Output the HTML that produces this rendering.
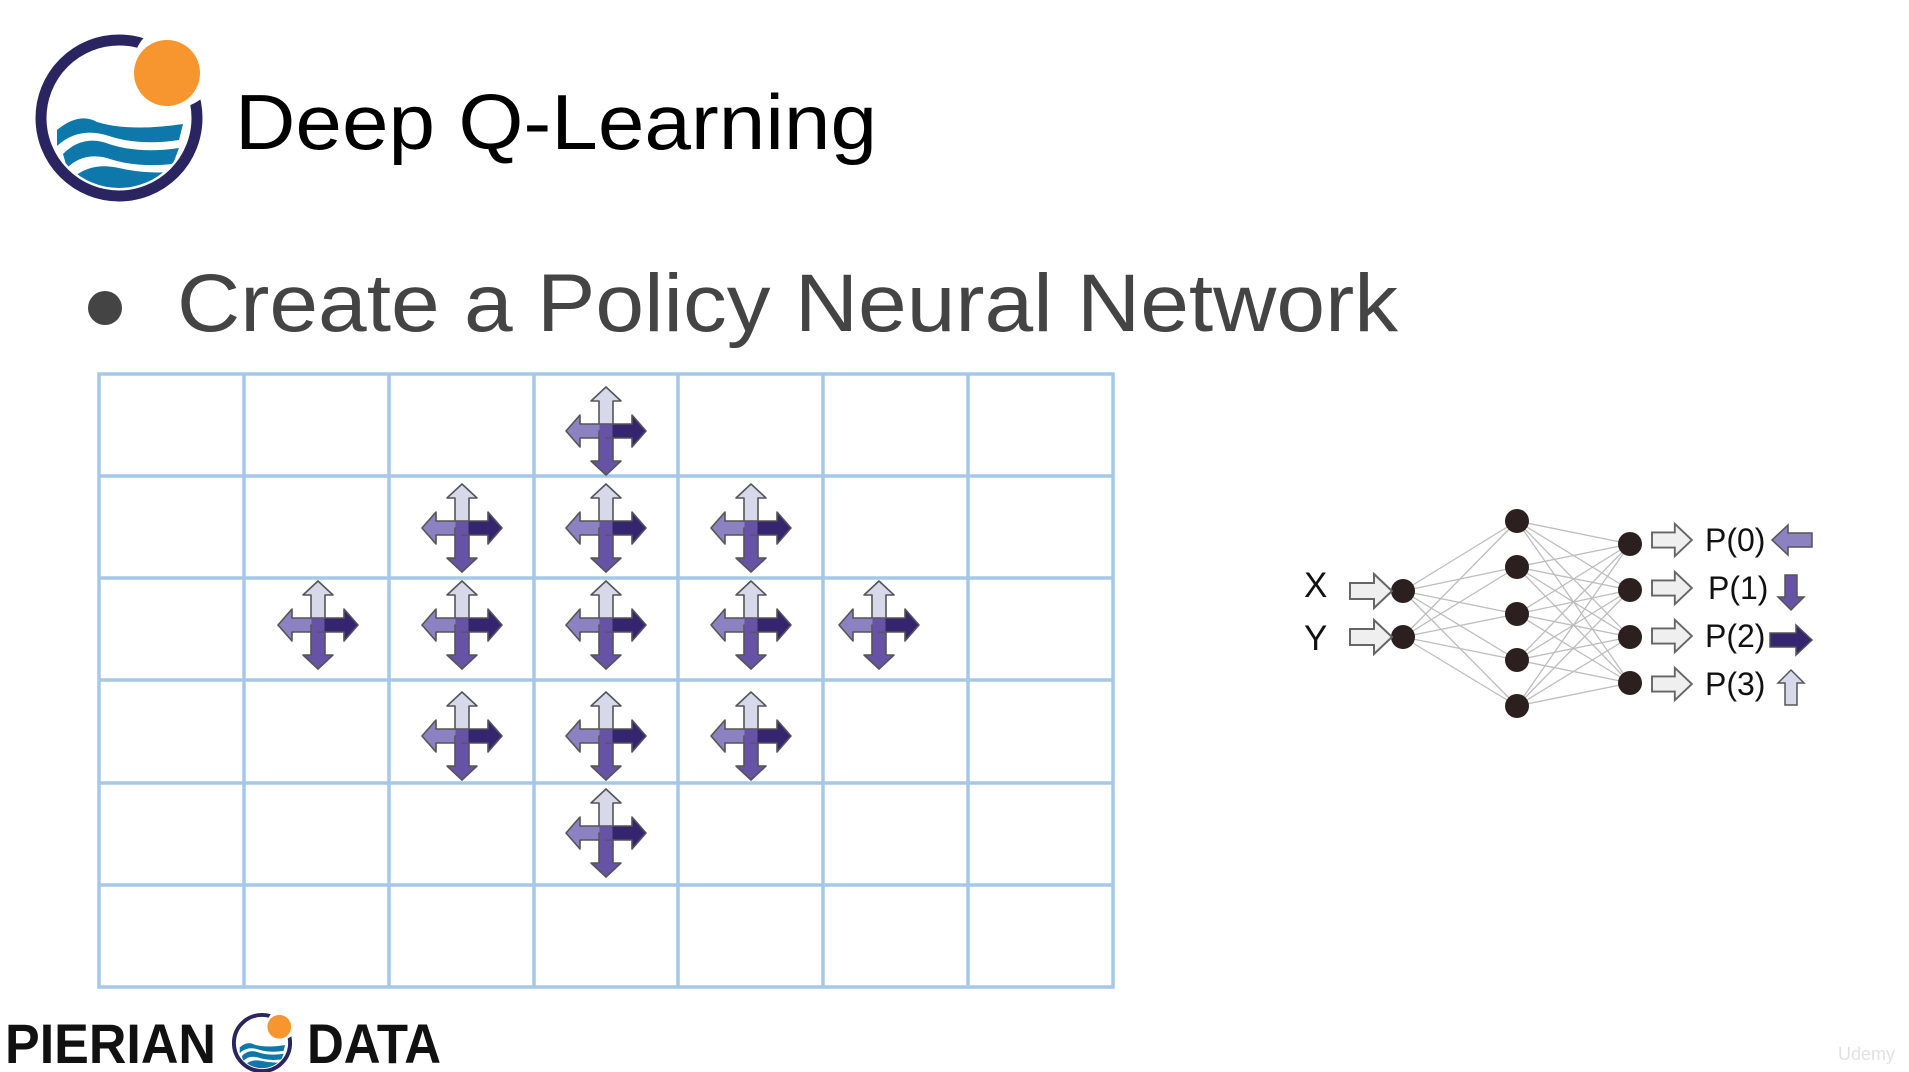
<!DOCTYPE html>
<html><head><meta charset="utf-8"><style>
html,body{margin:0;padding:0;background:#fff;width:1909px;height:1072px;overflow:hidden}
svg{display:block}
</style></head><body>
<svg width="1909" height="1072" viewBox="0 0 1909 1072" xmlns="http://www.w3.org/2000/svg">
<defs>
<g id="cross" stroke="#555" stroke-width="1.6" stroke-linejoin="round">
  <path d="M-7,0 V-30 H-15 L0,-44 L15,-30 H7 V0 Z" fill="#d9d7ea"/>
  <path d="M0,-7 H-26 V-16 L-40,0 L-26,16 V7 H0 Z" fill="#8c82c2"/>
  <path d="M7,0 V30 H15 L0,44 L-15,30 H-7 V0 Z" fill="#6653a6"/>
  <path d="M0,-7 H26 V-16 L40,0 L26,16 V7 H0 Z" fill="#35256f"/>
  <rect x="-6.5" y="-6.5" width="13" height="13" fill="#6653a6" stroke="none"/>
</g>
<g id="inarr">
  <path d="M0,-8 H24 V-17 L42,0 L24,17 V8 H0 Z" fill="#efefef" stroke="#666" stroke-width="2"/>
</g>
<g id="logo">
  <circle cx="0" cy="0" r="78" fill="none" stroke="#2a2560" stroke-width="11"/>
  <clipPath id="lc"><circle cx="0" cy="0" r="70"/></clipPath>
  <g clip-path="url(#lc)" fill="#0e78aa">
    <path d="M-62,12 Q-40,-6 -22,4 Q10,14 64,6 L60,22 Q20,28 -10,18 Q-40,8 -62,28 Z"/>
    <path d="M-56,36 Q-36,16 -10,26 Q20,36 60,30 L54,46 Q16,50 -12,40 Q-36,34 -52,50 Z"/>
    <path d="M-44,58 Q-26,44 0,50 Q26,56 50,54 L40,70 L-30,72 Z"/>
  </g>
  <circle cx="56" cy="-52" r="42" fill="#fff"/>
  <circle cx="48" cy="-45" r="33" fill="#f7962e"/>
</g>
</defs>

<use href="#logo" transform="translate(119,118)"/>
<text x="235" y="149" font-family="Liberation Sans, sans-serif" font-size="78" fill="#000" textLength="642" lengthAdjust="spacingAndGlyphs">Deep Q-Learning</text>

<circle cx="105" cy="308" r="17" fill="#444"/>
<text x="177" y="331" font-family="Liberation Sans, sans-serif" font-size="82" fill="#444" textLength="1221" lengthAdjust="spacingAndGlyphs">Create a Policy Neural Network</text>

<g stroke="#a6c8e8" stroke-width="3.5" fill="none">
  <rect x="99" y="374" width="1014" height="613"/>
  <line x1="244" y1="374" x2="244" y2="987"/>
  <line x1="389" y1="374" x2="389" y2="987"/>
  <line x1="534" y1="374" x2="534" y2="987"/>
  <line x1="678" y1="374" x2="678" y2="987"/>
  <line x1="823" y1="374" x2="823" y2="987"/>
  <line x1="968" y1="374" x2="968" y2="987"/>
  <line x1="99" y1="476" x2="1113" y2="476"/>
  <line x1="99" y1="578" x2="1113" y2="578"/>
  <line x1="99" y1="680" x2="1113" y2="680"/>
  <line x1="99" y1="783" x2="1113" y2="783"/>
  <line x1="99" y1="885" x2="1113" y2="885"/>
</g>

<use href="#cross" transform="translate(606,431)"/>
<use href="#cross" transform="translate(462,528)"/>
<use href="#cross" transform="translate(606,528)"/>
<use href="#cross" transform="translate(751,528)"/>
<use href="#cross" transform="translate(318,625)"/>
<use href="#cross" transform="translate(462,625)"/>
<use href="#cross" transform="translate(606,625)"/>
<use href="#cross" transform="translate(751,625)"/>
<use href="#cross" transform="translate(879,625)"/>
<use href="#cross" transform="translate(462,736)"/>
<use href="#cross" transform="translate(606,736)"/>
<use href="#cross" transform="translate(751,736)"/>
<use href="#cross" transform="translate(606,833)"/>

<g stroke="#bdbdbd" stroke-width="1.3">
  <line x1="1403" y1="591" x2="1517" y2="521"/><line x1="1403" y1="591" x2="1517" y2="567"/><line x1="1403" y1="591" x2="1517" y2="614"/><line x1="1403" y1="591" x2="1517" y2="660"/><line x1="1403" y1="591" x2="1517" y2="706"/>
  <line x1="1403" y1="637" x2="1517" y2="521"/><line x1="1403" y1="637" x2="1517" y2="567"/><line x1="1403" y1="637" x2="1517" y2="614"/><line x1="1403" y1="637" x2="1517" y2="660"/><line x1="1403" y1="637" x2="1517" y2="706"/>
  <line x1="1517" y1="521" x2="1630" y2="544"/><line x1="1517" y1="521" x2="1630" y2="590"/><line x1="1517" y1="521" x2="1630" y2="637"/><line x1="1517" y1="521" x2="1630" y2="683"/>
  <line x1="1517" y1="567" x2="1630" y2="544"/><line x1="1517" y1="567" x2="1630" y2="590"/><line x1="1517" y1="567" x2="1630" y2="637"/><line x1="1517" y1="567" x2="1630" y2="683"/>
  <line x1="1517" y1="614" x2="1630" y2="544"/><line x1="1517" y1="614" x2="1630" y2="590"/><line x1="1517" y1="614" x2="1630" y2="637"/><line x1="1517" y1="614" x2="1630" y2="683"/>
  <line x1="1517" y1="660" x2="1630" y2="544"/><line x1="1517" y1="660" x2="1630" y2="590"/><line x1="1517" y1="660" x2="1630" y2="637"/><line x1="1517" y1="660" x2="1630" y2="683"/>
  <line x1="1517" y1="706" x2="1630" y2="544"/><line x1="1517" y1="706" x2="1630" y2="590"/><line x1="1517" y1="706" x2="1630" y2="637"/><line x1="1517" y1="706" x2="1630" y2="683"/>
</g>
<g fill="#2b1f1f">
  <circle cx="1403" cy="591" r="12"/><circle cx="1403" cy="637" r="12"/>
  <circle cx="1517" cy="521" r="12"/><circle cx="1517" cy="567" r="12"/><circle cx="1517" cy="614" r="12"/><circle cx="1517" cy="660" r="12"/><circle cx="1517" cy="706" r="12"/>
  <circle cx="1630" cy="544" r="12"/><circle cx="1630" cy="590" r="12"/><circle cx="1630" cy="637" r="12"/><circle cx="1630" cy="683" r="12"/>
</g>
<g font-family="Liberation Sans, sans-serif" fill="#111">
  <text x="1304" y="597" font-size="35">X</text>
  <text x="1304" y="650" font-size="35">Y</text>
  <text x="1705" y="551" font-size="32">P(0)</text>
  <text x="1708" y="599" font-size="32">P(1)</text>
  <text x="1705" y="647" font-size="32">P(2)</text>
  <text x="1705" y="695" font-size="32">P(3)</text>
</g>
<use href="#inarr" transform="translate(1350,591)"/>
<use href="#inarr" transform="translate(1350,637)"/>
<use href="#inarr" transform="translate(1652,540) scale(0.95)"/>
<use href="#inarr" transform="translate(1652,588) scale(0.95)"/>
<use href="#inarr" transform="translate(1652,636) scale(0.95)"/>
<use href="#inarr" transform="translate(1652,684) scale(0.95)"/>
<g stroke="#555" stroke-width="1.5">
  <path d="M1812,533 V547 H1788 V555 L1772,540 L1788,525 V533 Z" fill="#8c82c2"/>
  <path d="M1785,575 H1797 V597 H1804 L1791,610 L1778,597 H1785 Z" fill="#6653a6"/>
  <path d="M1770,633 H1796 V625 L1812,640 L1796,655 V647 H1770 Z" fill="#35256f"/>
  <path d="M1785,705 H1797 V683 H1804 L1791,670 L1778,683 H1785 Z" fill="#d9d7ea"/>
</g>

<text x="5" y="1063" font-family="Liberation Sans, sans-serif" font-weight="bold" font-size="56" fill="#111" textLength="211" lengthAdjust="spacingAndGlyphs">PIERIAN</text>
<use href="#logo" transform="translate(262,1043) scale(0.36)"/>
<text x="307" y="1063" font-family="Liberation Sans, sans-serif" font-weight="bold" font-size="56" fill="#111" textLength="134" lengthAdjust="spacingAndGlyphs">DATA</text>
<text x="1838" y="1060" font-family="Liberation Sans, sans-serif" font-size="18" fill="#e2e2e2">Udemy</text>
</svg>
</body></html>
